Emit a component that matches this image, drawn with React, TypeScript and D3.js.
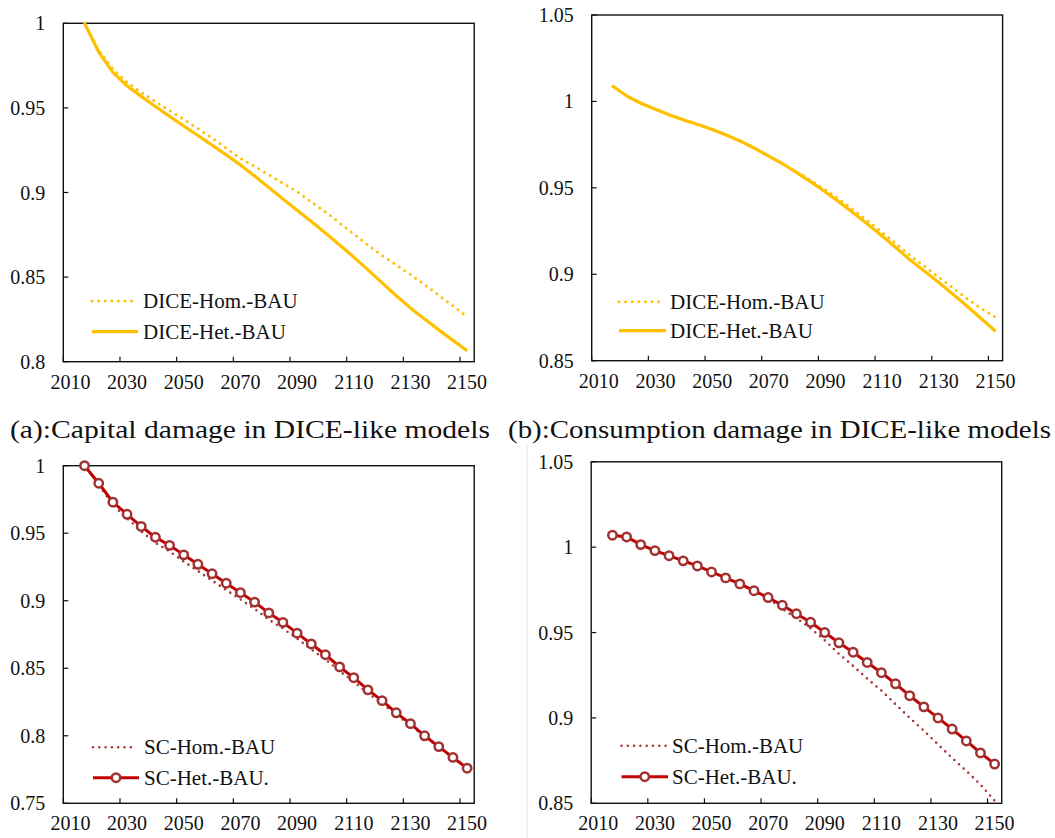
import React from "react";
import * as d3 from "d3";

// ---------- data ----------
const categories = [2010, 2015, 2020, 2025, 2030, 2035, 2040, 2045, 2050, 2055, 2060, 2065, 2070, 2075, 2080, 2085, 2090, 2095, 2100, 2105, 2110, 2115, 2120, 2125, 2130, 2135, 2140, 2145, 2150];
const years = [2015, 2020, 2025, 2030, 2035, 2040, 2045, 2050, 2055, 2060, 2065, 2070, 2075, 2080, 2085, 2090, 2095, 2100, 2105, 2110, 2115, 2120, 2125, 2130, 2135, 2140, 2145, 2150];
const xTickLabels = [2010, 2030, 2050, 2070, 2090, 2110, 2130, 2150];

// (a) capital damage, DICE-like
const capHom = [1.0, 0.984, 0.973, 0.9652, 0.9592, 0.9537, 0.9484, 0.9432, 0.9378, 0.9322, 0.9262, 0.9202, 0.9155, 0.9105, 0.9055, 0.9005, 0.8945, 0.8885, 0.882, 0.8755, 0.869, 0.8628, 0.8572, 0.8515, 0.8455, 0.8393, 0.833, 0.8265];
const capHet = [1.0, 0.983, 0.971, 0.963, 0.9568, 0.9508, 0.945, 0.9393, 0.9337, 0.928, 0.9222, 0.9163, 0.9098, 0.903, 0.8962, 0.8895, 0.8828, 0.876, 0.869, 0.8618, 0.8543, 0.8466, 0.839, 0.8318, 0.8252, 0.8188, 0.8126, 0.8065];
// (b) consumption damage, DICE-like
const conHom = [1.0088, 1.003, 0.9988, 0.9955, 0.9922, 0.9893, 0.9866, 0.9838, 0.9806, 0.977, 0.9729, 0.9683, 0.9638, 0.9591, 0.9541, 0.9488, 0.9431, 0.9371, 0.9308, 0.9243, 0.9176, 0.9107, 0.9045, 0.8983, 0.8921, 0.8859, 0.8801, 0.8752];
const conHet = [1.0088, 1.003, 0.9988, 0.9955, 0.9922, 0.9893, 0.9866, 0.9838, 0.9806, 0.977, 0.9729, 0.9683, 0.9638, 0.9587, 0.9533, 0.9476, 0.9416, 0.9353, 0.9288, 0.9221, 0.9152, 0.9081, 0.9017, 0.8952, 0.8885, 0.8815, 0.8743, 0.867];
// (c) capital damage, SC
const scCapHom = [1.0, 0.986, 0.971, 0.961, 0.9515, 0.943, 0.9365, 0.929, 0.922, 0.915, 0.908, 0.901, 0.894, 0.886, 0.8795, 0.872, 0.864, 0.8565, 0.848, 0.84, 0.8315, 0.824, 0.8155, 0.808, 0.7995, 0.7915, 0.7835, 0.776];
const scCapHet = [1.0, 0.987, 0.973, 0.964, 0.955, 0.947, 0.941, 0.934, 0.927, 0.92, 0.913, 0.906, 0.899, 0.891, 0.884, 0.876, 0.868, 0.86, 0.851, 0.843, 0.834, 0.826, 0.817, 0.809, 0.8, 0.792, 0.784, 0.776];
// (d) consumption damage, SC
const scConHom = [1.007, 1.006, 1.0015, 0.998, 0.995, 0.992, 0.989, 0.9855, 0.982, 0.9785, 0.974, 0.97, 0.964, 0.9585, 0.9525, 0.9455, 0.9375, 0.9305, 0.923, 0.916, 0.908, 0.9, 0.8925, 0.8845, 0.8765, 0.869, 0.861, 0.8515];
const scConHet = [1.007, 1.006, 1.0015, 0.998, 0.995, 0.992, 0.989, 0.9855, 0.982, 0.9785, 0.9745, 0.9705, 0.966, 0.961, 0.956, 0.95, 0.944, 0.9385, 0.9325, 0.9265, 0.92, 0.913, 0.9065, 0.9, 0.8935, 0.8865, 0.8795, 0.873];

const yTicksCap = [0.8, 0.85, 0.9, 0.95, 1];
const yTicksCon = [0.85, 0.9, 0.95, 1, 1.05];
const yTicksScCap = [0.75, 0.8, 0.85, 0.9, 0.95, 1];

const legendDice = ["DICE-Hom.-BAU", "DICE-Het.-BAU"];
const legendSc = ["SC-Hom.-BAU", "SC-Het.-BAU."];
const captionA = "(a):Capital damage in DICE-like models";
const captionB = "(b):Consumption damage in DICE-like models";

// ---------- styling ----------
const FONT = "'Liberation Serif', 'Times New Roman', serif";
const GOLD = "#FFC000";
const RED = "#C00000";
const RED_DOT = "#A83A3A";
const RED_MARK = "#A13232";

type Box = { left: number; right: number; top: number; bottom: number };
type Legend = { x1: number; x2: number; yHom: number; yHet: number; textX: number };

function Panel(props: {
  box: Box;
  yDomain: [number, number];
  yTicks: number[];
  hom: number[];
  het: number[];
  labels: string[];
  legend: Legend;
  sc: boolean;
}) {
  const { box, yDomain, yTicks, hom, het, labels, legend, sc } = props;
  const x = d3.scaleBand<number>().domain(categories).range([box.left, box.right]).padding(0);
  const cx = (yr: number) => (x(yr) as number) + x.bandwidth() / 2;
  const y = d3.scaleLinear().domain(yDomain).range([box.bottom, box.top]);
  const line = d3
    .line<number>()
    .x((_, i) => cx(years[i]))
    .y((v) => y(v));

  const homStyle = sc
    ? { stroke: RED_DOT, strokeWidth: 2.6, strokeDasharray: "0 6.3", strokeLinecap: "round" as const }
    : { stroke: GOLD, strokeWidth: 3, strokeDasharray: "0 6.6", strokeLinecap: "round" as const };
  const hetStyle = sc
    ? { stroke: RED, strokeWidth: 3 }
    : { stroke: GOLD, strokeWidth: 3.2 };

  const fmt = (v: number) => String(+v.toFixed(2));

  return (
    <g>
      <rect
        x={box.left}
        y={box.top}
        width={box.right - box.left}
        height={box.bottom - box.top}
        fill="none"
        stroke="#111"
        strokeWidth={1.4}
      />
      {yTicks.map((t) => (
        <g key={"y" + t}>
          <line x1={box.left} x2={box.left + 5} y1={y(t)} y2={y(t)} stroke="#111" strokeWidth={1.2} />
          <text
            x={box.left - 18}
            y={y(t)}
            dy="0.35em"
            textAnchor="end"
            fontFamily={FONT}
            fontSize={20}
            fill="#111"
          >
            {fmt(t)}
          </text>
        </g>
      ))}
      {xTickLabels.map((t) => (
        <g key={"x" + t}>
          <line x1={x(t)} x2={x(t)} y1={box.bottom} y2={box.bottom - 5} stroke="#111" strokeWidth={1.2} />
          <text
            x={cx(t)}
            y={box.bottom + 27}
            textAnchor="middle"
            fontFamily={FONT}
            fontSize={20}
            fill="#111"
          >
            {t}
          </text>
        </g>
      ))}
      <path d={line(hom) || ""} fill="none" {...homStyle} />
      <path d={line(het) || ""} fill="none" {...hetStyle} strokeLinejoin="round" />
      {sc &&
        het.map((v, i) => (
          <circle key={"m" + i} cx={cx(years[i])} cy={y(v)} r={4.2} fill="#fff" stroke={RED_MARK} strokeWidth={2.5} />
        ))}
      <line x1={legend.x1} x2={legend.x2} y1={legend.yHom} y2={legend.yHom} {...homStyle} />
      <text x={legend.textX} y={legend.yHom + 6.8} fontFamily={FONT} fontSize={21} fill="#111">
        {labels[0]}
      </text>
      <line x1={legend.x1} x2={legend.x2 + 2} y1={legend.yHet} y2={legend.yHet} {...hetStyle} />
      {sc && (
        <circle cx={(legend.x1 + legend.x2 + 2) / 2} cy={legend.yHet} r={4.2} fill="#fff" stroke={RED_MARK} strokeWidth={2.5} />
      )}
      <text x={legend.textX} y={legend.yHet + 6.8} fontFamily={FONT} fontSize={21} fill="#111">
        {labels[1]}
      </text>
    </g>
  );
}

export default function App() {
  return (
    <svg
      width={1055}
      height={838}
      style={{ position: "absolute", left: 0, top: 0, background: "#fff" }}
    >
      <rect x={0} y={0} width={1055} height={838} fill="#fff" />
      <line x1={527} x2={527} y1={445} y2={838} stroke="#e4e4e4" strokeWidth={1} />
      <Panel
        box={{ left: 63.3, right: 474.2, top: 23.3, bottom: 361.7 }}
        yDomain={[0.8, 1]}
        yTicks={yTicksCap}
        hom={capHom}
        het={capHet}
        labels={legendDice}
        legend={{ x1: 92, x2: 136, yHom: 301, yHet: 331.7, textX: 143 }}
        sc={false}
      />
      <Panel
        box={{ left: 591.7, right: 1002.6, top: 15, bottom: 360.7 }}
        yDomain={[0.85, 1.05]}
        yTicks={yTicksCon}
        hom={conHom}
        het={conHet}
        labels={legendDice}
        legend={{ x1: 619, x2: 664, yHom: 301.7, yHet: 330.7, textX: 670 }}
        sc={false}
      />
      <Panel
        box={{ left: 63.3, right: 474.2, top: 465.7, bottom: 803.3 }}
        yDomain={[0.75, 1]}
        yTicks={yTicksScCap}
        hom={scCapHom}
        het={scCapHet}
        labels={legendSc}
        legend={{ x1: 93, x2: 137, yHom: 747.3, yHet: 777.7, textX: 144 }}
        sc={true}
      />
      <Panel
        box={{ left: 591.2, right: 1001.7, top: 461.8, bottom: 803.3 }}
        yDomain={[0.85, 1.05]}
        yTicks={yTicksCon}
        hom={scConHom}
        het={scConHet}
        labels={legendSc}
        legend={{ x1: 621.5, x2: 666, yHom: 745.7, yHet: 776.7, textX: 672 }}
        sc={true}
      />
      <text
        x={10}
        y={438}
        fontFamily={FONT}
        fontSize={25}
        fill="#111"
        textLength={480}
        lengthAdjust="spacingAndGlyphs"
      >
        {captionA}
      </text>
      <text
        x={508}
        y={438}
        fontFamily={FONT}
        fontSize={25}
        fill="#111"
        textLength={543}
        lengthAdjust="spacingAndGlyphs"
      >
        {captionB}
      </text>
    </svg>
  );
}
